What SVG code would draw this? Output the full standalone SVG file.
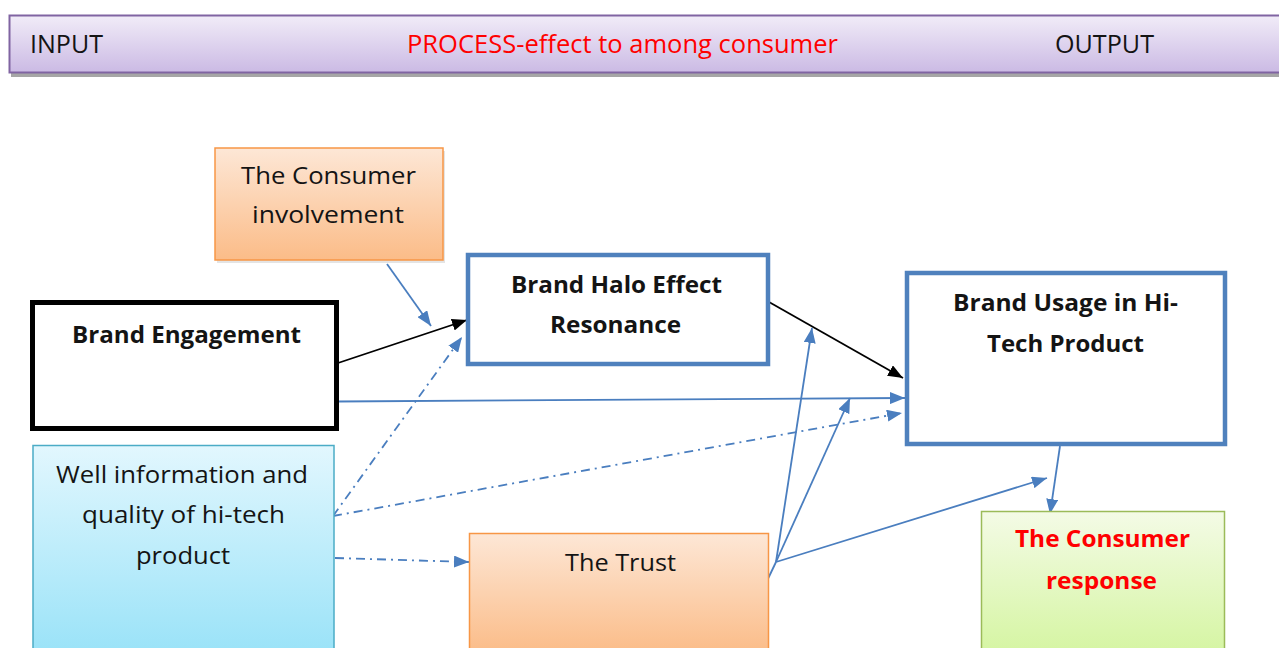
<svg xmlns="http://www.w3.org/2000/svg" width="1279" height="648" viewBox="0 0 1279 648">
<defs>
<linearGradient id="gHead" x1="0" y1="0" x2="0" y2="1"><stop offset="0" stop-color="#F1ECF8"/><stop offset="1" stop-color="#CBBAE4"/></linearGradient>
<linearGradient id="gOrange" x1="0" y1="0" x2="0" y2="1"><stop offset="0" stop-color="#FDE7D6"/><stop offset="1" stop-color="#FBBC88"/></linearGradient>
<linearGradient id="gBlue" x1="0" y1="0" x2="0" y2="1"><stop offset="0" stop-color="#E2F7FE"/><stop offset="1" stop-color="#9BE3F8"/></linearGradient>
<linearGradient id="gGreen" x1="0" y1="0" x2="0" y2="1"><stop offset="0" stop-color="#F4FBE6"/><stop offset="1" stop-color="#D5F5A2"/></linearGradient>
<marker id="aBlue" markerUnits="userSpaceOnUse" markerWidth="15" markerHeight="12" refX="15" refY="6" orient="auto"><path d="M0,0 L15,6 L0,12 z" fill="#4A7EBF"/></marker>
<marker id="aBlack" markerUnits="userSpaceOnUse" markerWidth="15" markerHeight="12" refX="15" refY="6" orient="auto"><path d="M0,0 L15,6 L0,12 z" fill="#000"/></marker>
</defs>
<style>
text{font-family:"Open Sans","Liberation Sans",sans-serif;fill:#141414;}
.h{font-size:25px;}
.t{font-size:24px;}
.b{font-size:24px;font-weight:bold;}
.red{fill:#FF0000;}
.blue{fill:none;stroke:#4A7EBF;stroke-width:1.8;}
.dd{fill:none;stroke:#4A7EBF;stroke-width:1.8;stroke-dasharray:9 5 2 5;}
.blk{fill:none;stroke:#000;stroke-width:1.8;}
.bbox{fill:#fff;stroke:#4F81BD;stroke-width:4.5;}
</style>
<rect width="1279" height="648" fill="#fff"/>

<g id="header">
<rect x="11" y="18" width="1280" height="59" fill="#A6A6A6"/>
<rect x="9.5" y="15.5" width="1280" height="57" fill="url(#gHead)" stroke="#8064A2" stroke-width="2"/>
<text class="h" x="30" y="53" textLength="73" lengthAdjust="spacingAndGlyphs">INPUT</text>
<text class="h red" x="407" y="53" textLength="431" lengthAdjust="spacingAndGlyphs">PROCESS-effect to among consumer</text>
<text class="h" x="1055" y="53" textLength="99" lengthAdjust="spacingAndGlyphs">OUTPUT</text>
</g>

<g id="connectors">
<line class="blue" x1="387" y1="264" x2="431" y2="326" marker-end="url(#aBlue)"/>
<line class="blk" x1="338" y1="363" x2="467" y2="320" marker-end="url(#aBlack)"/>
<line class="dd" x1="333" y1="516" x2="462" y2="337" marker-end="url(#aBlue)"/>
<line class="blue" x1="338" y1="401.5" x2="905" y2="398" marker-end="url(#aBlue)"/>
<line class="dd" x1="333" y1="516" x2="902" y2="413" marker-end="url(#aBlue)"/>
<line class="dd" x1="335" y1="558" x2="469" y2="562" marker-end="url(#aBlue)"/>
<line class="blk" x1="769" y1="302" x2="903" y2="378" marker-end="url(#aBlack)"/>
<line class="blue" x1="765" y1="585" x2="776" y2="562"/>
<line class="blue" x1="776" y1="562" x2="812" y2="328" marker-end="url(#aBlue)"/>
<line class="blue" x1="776" y1="562" x2="850" y2="398" marker-end="url(#aBlue)"/>
<line class="blue" x1="776" y1="562" x2="1047" y2="478" marker-end="url(#aBlue)"/>
<line class="blue" x1="1060" y1="446" x2="1050" y2="514" marker-end="url(#aBlue)"/>
</g>

<g id="consumer-involvement">
<rect x="217" y="151" width="228" height="112" fill="#D9D9D9" opacity="0.7"/>
<rect x="215" y="148" width="228" height="112" fill="url(#gOrange)" stroke="#F79646" stroke-width="1.5"/>
<text class="t" x="241" y="184" textLength="175" lengthAdjust="spacingAndGlyphs">The Consumer</text>
<text class="t" x="252" y="223" textLength="152" lengthAdjust="spacingAndGlyphs">involvement</text>
</g>

<g id="brand-engagement">
<rect x="32.5" y="302.5" width="304" height="126" fill="#fff" stroke="#000" stroke-width="5"/>
<text class="b" x="72" y="343" textLength="229" lengthAdjust="spacingAndGlyphs">Brand Engagement</text>
</g>

<g id="brand-halo">
<rect class="bbox" x="468" y="255" width="300" height="109"/>
<text class="b" x="511" y="293" textLength="211" lengthAdjust="spacingAndGlyphs">Brand Halo Effect</text>
<text class="b" x="550" y="333" textLength="131" lengthAdjust="spacingAndGlyphs">Resonance</text>
</g>

<g id="brand-usage">
<rect class="bbox" x="907" y="273" width="318" height="171"/>
<text class="b" x="953" y="311" textLength="225" lengthAdjust="spacingAndGlyphs">Brand Usage in Hi-</text>
<text class="b" x="987" y="352" textLength="157" lengthAdjust="spacingAndGlyphs">Tech Product</text>
</g>

<g id="well-information">
<rect x="33" y="445.5" width="301" height="205" fill="url(#gBlue)" stroke="#4BACC6" stroke-width="1.5"/>
<text class="t" x="56" y="483" textLength="252" lengthAdjust="spacingAndGlyphs">Well information and</text>
<text class="t" x="82" y="523" textLength="203" lengthAdjust="spacingAndGlyphs">quality of hi-tech</text>
<text class="t" x="136" y="564" textLength="94" lengthAdjust="spacingAndGlyphs">product</text>
</g>

<g id="the-trust">
<rect x="469.5" y="533.5" width="299" height="120" fill="url(#gOrange)" stroke="#F79646" stroke-width="1.5"/>
<text class="t" x="565" y="571" textLength="111" lengthAdjust="spacingAndGlyphs">The Trust</text>
</g>

<g id="consumer-response">
<rect x="981.5" y="511.5" width="243" height="142" fill="url(#gGreen)" stroke="#9BBB59" stroke-width="1.5"/>
<text class="b red" x="1015" y="547" textLength="175" lengthAdjust="spacingAndGlyphs">The Consumer</text>
<text class="b red" x="1046" y="589" textLength="111" lengthAdjust="spacingAndGlyphs">response</text>
</g>
</svg>
